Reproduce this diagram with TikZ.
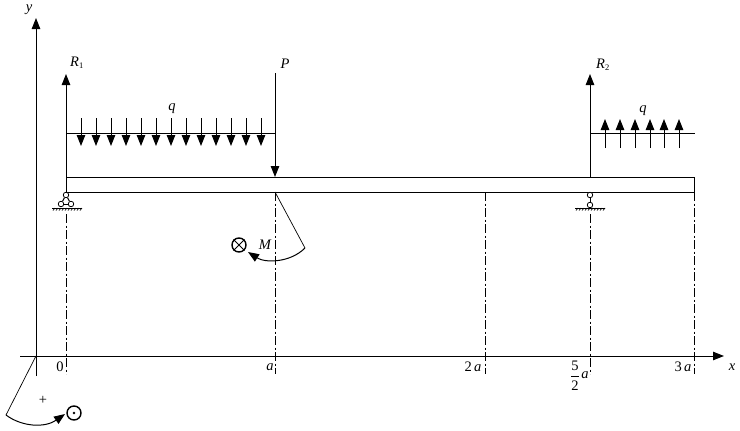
\documentclass[tikz,border=0pt]{standalone}
\usepackage{fontspec}
\setmainfont{Liberation Serif}
\usetikzlibrary{arrows.meta}
\tikzset{
  head/.style={-{Triangle[length=11pt,width=8.5pt]}},
  line/.style={line width=1pt},
  force/.style={line width=1pt,head},
  centerline/.style={line width=0.9pt,dash pattern=on 9pt off 2.5pt on 2pt off 2.5pt},
  thin line/.style={line width=0.7pt},
  pin/.style={circle,draw,line width=0.8pt,inner sep=0pt,minimum size=5.5pt,fill=white},
  moment/.style={circle,draw,line width=1.4pt,inner sep=0pt,minimum size=14pt},
  label/.style={inner sep=0pt,font=\fontsize{14.5}{14.5}\selectfont\itshape},
  number/.style={inner sep=0pt,font=\fontsize{14.5}{14.5}\selectfont},
}
\begin{document}
\begin{tikzpicture}[x=1pt,y=-1pt]
    \path[use as bounding box] (0,0) rectangle (740,431);
    % Axes.
    \coordinate (o) at (36,356);
    \coordinate (yb) at (36,376);
    \coordinate (yt) at (36,18);
    \coordinate (xl) at (20,356);
    \coordinate (xr) at (724,356);
    \draw[force] (yb) -- (yt);
    \draw[force] (xl) -- (xr);
    \node[label] (ylabel) at (29,10) {y};
    \node[label] (xlabel) at (732,367) {x};
    % Beam.
    \coordinate (beamtl) at (66,177);
    \coordinate (beambr) at (694,192);
    \draw[line] (beamtl) rectangle (beambr);
    % Center lines.
    \foreach \name/\x/\top in {c0/66/214,ca/275/192,cb/485/192,cc/590/214,cd/694/192} {
      \coordinate (\name t) at (\x,\top);
      \coordinate (\name b) at (\x,374);
      \draw[centerline] (\name t) -- (\name b);
    }
    % Reactions.
    \coordinate (r1b) at (66,177);
    \coordinate (r1t) at (66,74);
    \coordinate (r2b) at (590,177);
    \coordinate (r2t) at (590,74);
    \draw[force] (r1b) -- (r1t);
    \draw[force] (r2b) -- (r2t);
    \node[label] (r1) at (77,63) {R\textsubscript{\fontsize{8.5}{8.5}\selectfont\upshape 1}};
    \node[label] (r2) at (603,65) {R\textsubscript{\fontsize{8.5}{8.5}\selectfont\upshape 2}};
    % Force P.
    \coordinate (pt) at (275,73);
    \coordinate (pb) at (275,177);
    \draw[force] (pt) -- (pb);
    \node[label] (plabel) at (285,64) {P};
    % Distributed loads.
    \coordinate (q1l) at (66,133);
    \coordinate (q1r) at (275,133);
    \coordinate (q2l) at (590,133);
    \coordinate (q2r) at (695,133);
    \draw[line] (q1l) -- (q1r);
    \draw[line] (q2l) -- (q2r);
    \foreach \x in {0,...,12} {
      \coordinate (qa\x) at (81+15*\x,118);
      \coordinate (qb\x) at (81+15*\x,146);
      \draw[force] (qa\x) -- (qb\x);
    }
    \foreach \x in {605,620,635,650,664,679} {
      \coordinate (qc\x) at (\x,148);
      \coordinate (qd\x) at (\x,119);
      \draw[force] (qc\x) -- (qd\x);
    }
    \node[label] (q1label) at (172,109) {q};
    \node[label] (q2label) at (643,111) {q};
    % Left support.
    \coordinate (gl1) at (52,208);
    \coordinate (gr1) at (82,208);
    \node[pin] (pa) at (66,195) {};
    \node[pin] (pb1) at (61,204) {};
    \node[pin] (pb2) at (71,204) {};
    \draw[line] (pa) -- (pb1);
    \draw[line] (pa) -- (pb2);
    \draw[line] (pb1) -- (pb2);
    \draw[line] (gl1) -- (gr1);
    \foreach \x in {0,...,9} {
      \coordinate (ha\x) at (55+3*\x,208);
      \coordinate (hb\x) at (53+3*\x,210.5);
      \draw[thin line] (ha\x) -- (hb\x);
    }
    % Right support.
    \coordinate (gl2) at (575,208);
    \coordinate (gr2) at (605,208);
    \node[pin] (pc) at (590,195) {};
    \node[pin] (pd) at (590,205) {};
    \draw[line] (pc) -- (pd);
    \draw[line] (gl2) -- (gr2);
    \foreach \x in {0,...,9} {
      \coordinate (hc\x) at (578+3*\x,208);
      \coordinate (hd\x) at (576+3*\x,210.5);
      \draw[thin line] (hc\x) -- (hd\x);
    }
    % Moment M.
    \coordinate (ms) at (275,192);
    \coordinate (mc) at (305,248);
    \coordinate (me) at (248,252);
    \draw[thin line] (ms) -- (mc);
    \draw[force] (mc) .. controls (290,263) and (265,263) .. (me);
    \node[moment] (mcross) at (239,245) {};
    \draw[line] (mcross.north west) -- (mcross.south east);
    \draw[line] (mcross.north east) -- (mcross.south west);
    \node[label] (mlabel) at (265,245) {M};
    % Positive sense.
    \coordinate (sc) at (6,415);
    \coordinate (se) at (65,414);
    \draw[thin line] (o) -- (sc);
    \draw[force] (sc) .. controls (22,427) and (45,428) .. (se);
    \node[moment] (sdot) at (74,413) {};
    \fill (sdot.center) circle (1.3pt);
    \node[number] (plus) at (43,400) {+};
    % Abscissae.
    \node[number] (l0) at (60,367) {0};
    \node[label] (la) at (270,367) {a};
    \node[number] (l2a) at (473,367) {2\,\textit{a}};
    \node[number] (l52) at (575,376) {$\displaystyle{\mbox{5}\above 1.3pt\mbox{2}}$};
    \node[label] (l52a) at (585,375) {a};
    \node[number] (l3a) at (683,367) {3\,\textit{a}};
\end{tikzpicture}
\end{document}
